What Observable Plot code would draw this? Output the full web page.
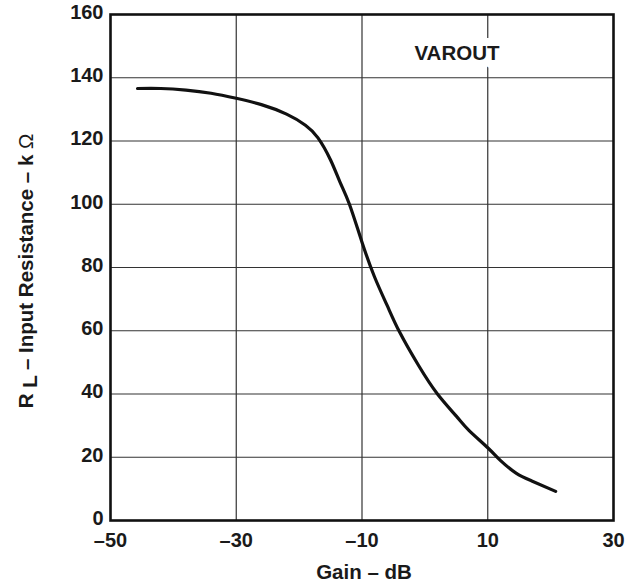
<!DOCTYPE html>
<html><head><meta charset="utf-8">
<script src="https://cdn.jsdelivr.net/npm/d3@7"></script>
<script src="https://cdn.jsdelivr.net/npm/@observablehq/plot@0.6"></script>
<style>
body{margin:0;background:#fff;}
svg{font-family:"Liberation Sans",Arial,Helvetica,sans-serif;}
</style>
</head><body><div id="chart"></div>
<script>
const gain       = [-45.7, -42, -38, -34, -30, -26, -22, -19, -17, -15, -13.5, -12, -10, -8, -6, -4, -1, 2, 5, 7, 10, 12, 14.5, 17, 20.8];
const resistance = [136.6, 136.6, 136.1, 135.1, 133.5, 131.5, 128.5, 125, 121, 114, 107, 100, 88, 77, 68, 59.5, 49, 40, 33, 28.5, 23, 19, 15, 12.5, 9.2];
const xTicks = [-50, -30, -10, 10, 30];
const yTicks = [0, 20, 40, 60, 80, 100, 120, 140, 160];
const annotation = "VAROUT";
const xLabel = "Gain – dB";

const data = gain.map((g, i) => ({gain: g, r: resistance[i]}));
const fmt = d => d < 0 ? "–" + Math.abs(d) : String(d);

const chart = Plot.plot({
  width: 635, height: 583,
  marginLeft: 110, marginRight: 22, marginTop: 14, marginBottom: 63,
  style: {fontSize: "20px", fontWeight: "bold", color: "#1a1a1a", background: "white", overflow: "visible"},
  x: {domain: [-50, 30]},
  y: {domain: [0, 160]},
  marks: [
    Plot.gridX(xTicks.slice(1, -1), {stroke: "#333", strokeOpacity: 1, strokeWidth: 1.2}),
    Plot.gridY(yTicks.slice(1, -1), {stroke: "#333", strokeOpacity: 1, strokeWidth: 1.2}),
    Plot.axisX(xTicks, {tickSize: 0, tickPadding: 12, tickFormat: fmt, label: null, fill: "#1a1a1a", fontSize: 20}),
    Plot.axisY(yTicks, {tickSize: 0, tickPadding: 7, dy: -2, label: null, fill: "#1a1a1a", fontSize: 20}),
    Plot.text([xLabel], {frameAnchor: "bottom", dy: 44, dx: 2, lineAnchor: "top", fontSize: 20.5, fontWeight: "bold", fill: "#1a1a1a"}),
    Plot.text([annotation], {x: () => 5.1, y: () => 147.7, fontSize: 20.5, fontWeight: "bold", fill: "#1a1a1a", stroke: "white", strokeWidth: 16}),
    Plot.line(data, {x: "gain", y: "r", curve: "natural", stroke: "#111", strokeWidth: 3.2}),
    Plot.frame({stroke: "#111", strokeWidth: 2.6})
  ]
});
document.getElementById("chart").append(chart);

// Y axis label with subscript
const svg = d3.select(chart);
const t = svg.append("text")
  .attr("transform", "translate(33,271) rotate(-90)")
  .attr("text-anchor", "middle")
  .attr("font-size", 20.5)
  .attr("font-weight", "bold")
  .attr("fill", "#1a1a1a");
t.append("tspan").text("R ");
t.append("tspan").attr("dy", "0.2em").text("L");
t.append("tspan").attr("dy", "-0.2em").text(" – Input Resistance – k ");
t.append("tspan").attr("font-weight", "normal").text("Ω");
</script>
</body></html>
